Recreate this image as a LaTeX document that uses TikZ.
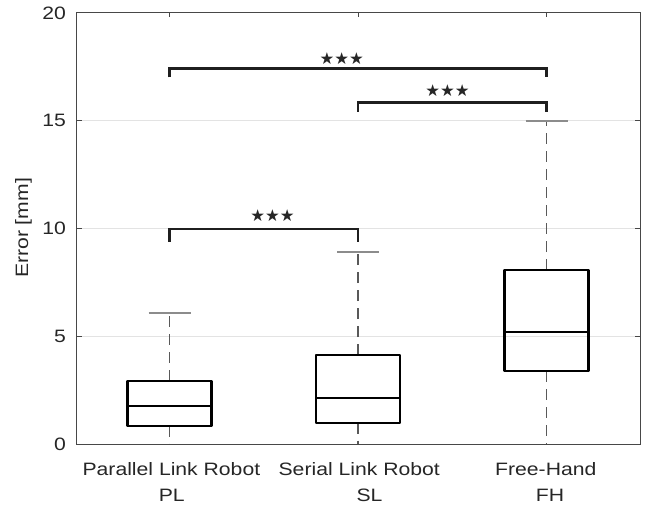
\documentclass[tikz,border=0pt]{standalone}
\usepackage{fontspec}
\setmainfont{Liberation Sans}[FakeStretch=1.18]
\newfontfamily\starfont{DejaVu Sans}
\definecolor{axcol}{HTML}{262626}
\definecolor{gridcol}{HTML}{E3E3E3}
\definecolor{whiskcol}{HTML}{595959}
\definecolor{capcol}{HTML}{8C8C8C}
\begin{document}
\begin{tikzpicture}[x=1bp,y=-1bp,
  lbl/.style={inner sep=0pt,font=\fontsize{18}{18}\selectfont,text=axcol},
  stars/.style={inner sep=0pt,font=\starfont\fontsize{16.5}{17}\selectfont,text=axcol},
  boxline/.style={draw=black,line width=2.4pt,line join=round},
  whisk/.style={draw=whiskcol,line width=1.2pt,dash pattern=on 11bp off 7bp},
  capline/.style={draw=capcol,line width=2pt},
  bracket/.style={draw=black!88,line width=2.4pt,line join=miter},
  gridline/.style={draw=gridcol,line width=1pt},
  axisline/.style={draw=axcol!85,line width=1pt}]
\useasboundingbox (0,0) rectangle (651,508);
\fill[white] (0,0) rectangle (651,508);
% grid
\foreach \yy in {336.6,228.75,120.9} \draw[gridline] (76.5,\yy) -- (640,\yy);
% whiskers and caps
\foreach \cx/\qa/\qb/\top in {169.5/425.7/380.7/313.3, 358/422.7/355/251.7, 546.5/371.3/270/120.9}{
  \draw[whisk] (\cx,\qb) -- (\cx,\top);
  \draw[whisk] (\cx,\qa) -- (\cx,444.5);
  \draw[capline] (\cx-21,\top) -- (\cx+21,\top);
  \draw[capline] (\cx-21,444.5) -- (\cx+21,444.5);
}
% boxes
\draw[boxline] (127.5,425.7) rectangle (211.5,380.7);
\draw[boxline] (127.5,406.3) -- (211.5,406.3);
\draw[boxline] (316,422.7) rectangle (400,355);
\draw[boxline] (316,398.3) -- (400,398.3);
\draw[boxline] (504.5,371.3) rectangle (588.5,270);
\draw[boxline] (504.5,332) -- (588.5,332);
% axes
\draw[axisline] (76.5,13) rectangle (640,444.5);
\foreach \yy in {444.5,336.6,228.75,120.9,13}{
  \draw[axisline] (76.5,\yy) -- (82,\yy);
  \draw[axisline] (640,\yy) -- (634.5,\yy);
}
\foreach \cx in {169.5,358,546.5} \draw[axisline] (\cx,13) -- (\cx,17.5);
% tick labels
\node[lbl,anchor=east] (t0) at (66,444.5) {0};
\node[lbl,anchor=east] (t5) at (66,336.6) {5};
\node[lbl,anchor=east] (t10) at (66,228.75) {10};
\node[lbl,anchor=east] (t15) at (66,120.9) {15};
\node[lbl,anchor=east] (t20) at (66,13) {20};
\node[lbl,anchor=base] (pl1) at (171.4,475) {Parallel Link Robot};
\node[lbl,anchor=base] (pl2) at (171.7,501.7) {PL};
\node[lbl,anchor=base] (sl1) at (359.2,475) {Serial Link Robot};
\node[lbl,anchor=base] (sl2) at (369.5,501.7) {SL};
\node[lbl,anchor=base] (fh1) at (545.8,475) {Free-Hand};
\node[lbl,anchor=base] (fh2) at (550,501.7) {FH};
\node[lbl,rotate=90] (ylab) at (23.5,228) {Error [mm]};
% brackets
\draw[bracket] (169.5,241.7) -- (169.5,229) -- (358,229) -- (358,241.7);
\draw[bracket] (169.5,77.5) -- (169.5,68.5) -- (546.5,68.5) -- (546.5,77.5);
\draw[bracket] (358,112) -- (358,102.5) -- (546.5,102.5) -- (546.5,112);
\node[stars] (s1) at (272.5,215.7) {★★★};
\node[stars] (s2) at (341.7,58.3) {★★★};
\node[stars] (s3) at (447.5,91) {★★★};
\end{tikzpicture}
\end{document}
